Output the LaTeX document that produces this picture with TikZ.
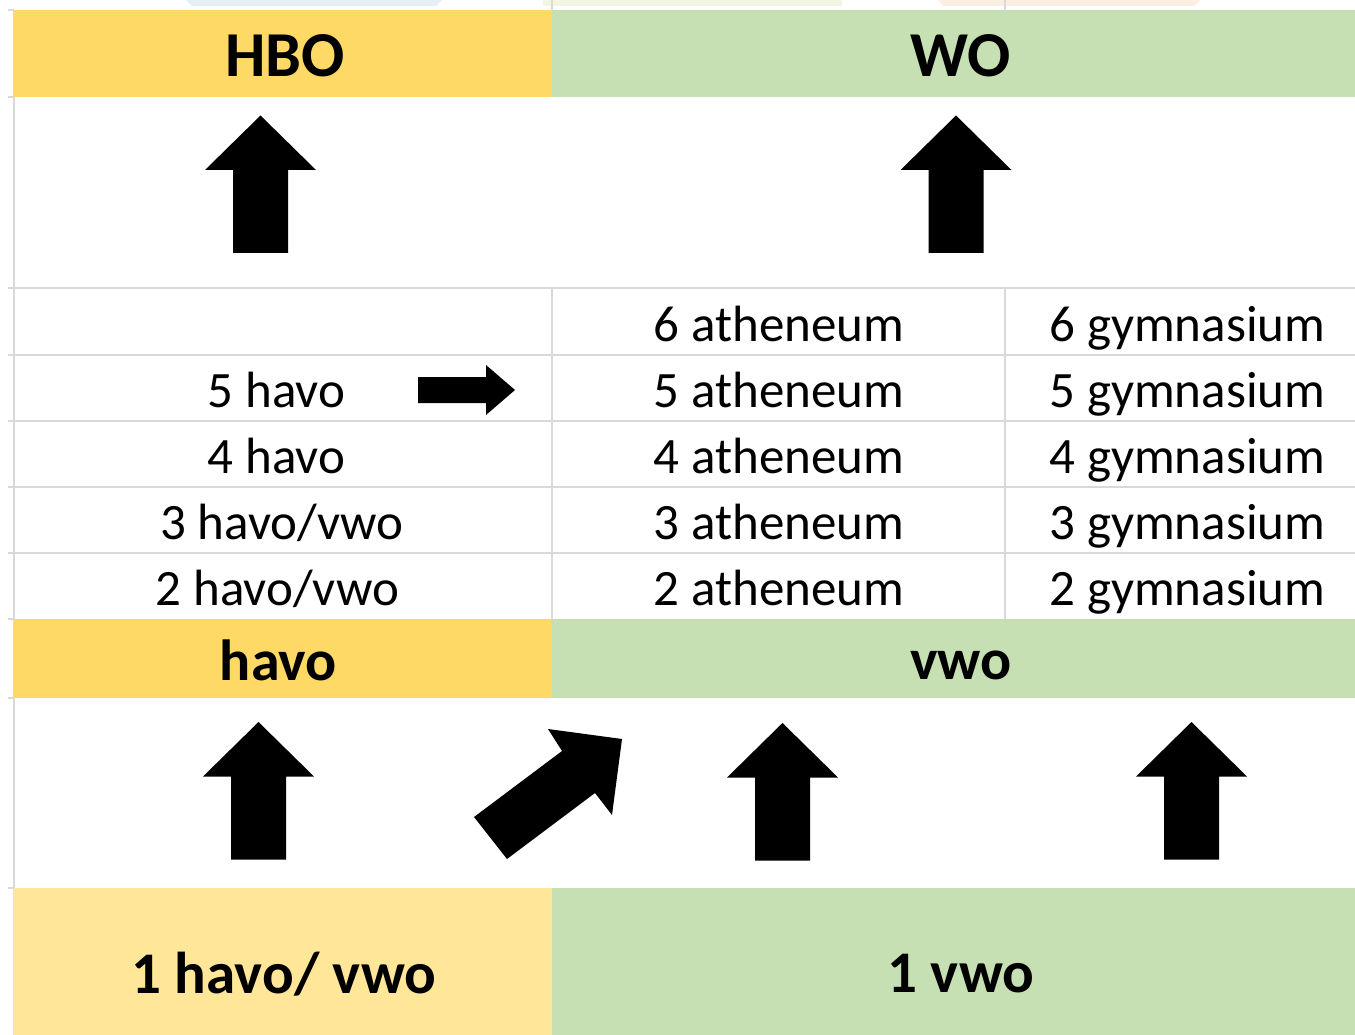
\documentclass[tikz,border=0pt]{standalone}
\usepackage{fontspec}
\setmainfont{Carlito}
\definecolor{hdyellow}{HTML}{FFD966}
\definecolor{ltyellow}{HTML}{FFE699}
\definecolor{hdgreen}{HTML}{C6E0B4}
\definecolor{gridgray}{HTML}{D9D9D9}
\definecolor{wmblue}{HTML}{E4EFF8}
\definecolor{wmgreen}{HTML}{F1F5E2}
\definecolor{wmorange}{HTML}{FDEEE2}
\begin{document}
\begin{tikzpicture}[x=1pt,y=-1pt,
  gridline/.style={draw=gridgray,line width=1.4pt},
  cell/.style={inner sep=0pt,anchor=base,font=\fontsize{51}{60}\selectfont},
  headtext/.style={inner sep=0pt,anchor=base,font=\fontsize{64}{70}\selectfont\bfseries},
  bandtext/.style={inner sep=0pt,anchor=base,font=\fontsize{58}{64}\selectfont\bfseries},
  basetext/.style={inner sep=0pt,anchor=base,font=\fontsize{59}{66}\selectfont\bfseries},
  blockarrow/.style={fill=black,draw=none},
  uparrow/.pic={\fill[blockarrow] (-27.5,0) -- (-27.5,-83) -- (-55.5,-83) -- (0,-137.5)
      -- (55.5,-83) -- (27.5,-83) -- (27.5,0) -- cycle;}]
\useasboundingbox (0,0) rectangle (1355,1035);
\fill[white] (0,0) rectangle (1355,1035);
% faint watermark fragments at the top
\fill[wmblue] (186,0) -- (442,0) -- (436,6) -- (192,6) -- cycle;
\fill[wmgreen] (543,0) -- (842,0) -- (842,6) -- (543,6) -- cycle;
\fill[wmorange] (938,0) -- (1200,0) -- (1195,6) -- (943,6) -- cycle;
% grid lines
\draw[gridline] (14,10) -- (14,888);
\foreach \yy in {10,97,619,698,888} \draw[gridline] (8,\yy) -- (14,\yy);
\foreach \yy in {288,355,421,487,553} \draw[gridline] (8,\yy) -- (1355,\yy);
\foreach \xx in {552,1005} {
  \draw[gridline] (\xx,0) -- (\xx,10);
  \draw[gridline] (\xx,288) -- (\xx,619);
}
% coloured bands
\fill[hdyellow] (13,10) rectangle (551.5,97);
\fill[hdgreen] (551.5,10) rectangle (1355,97);
\fill[hdyellow] (13,619) rectangle (551.5,698);
\fill[hdgreen] (551.5,619) rectangle (1355,698);
\fill[ltyellow] (13,888) rectangle (551.5,1035);
\fill[hdgreen] (551.5,888) rectangle (1355,1035);
% headers
\node[headtext] (hbo) at (285,77) {HBO};
\node[headtext] (wo) at (961,77) {WO};
% grid texts
\node[cell] (a6) at (779,341) {6 atheneum};
\node[cell] (g6) at (1187.5,341) {6 gymnasium};
\node[cell] (h5) at (276.5,407) {5 havo};
\node[cell] (a5) at (779,407) {5 atheneum};
\node[cell] (g5) at (1187.5,407) {5 gymnasium};
\node[cell] (h4) at (276.5,473) {4 havo};
\node[cell] (a4) at (779,473) {4 atheneum};
\node[cell] (g4) at (1187.5,473) {4 gymnasium};
\node[cell] (h3) at (282,539) {3 havo/vwo};
\node[cell] (a3) at (779,539) {3 atheneum};
\node[cell] (g3) at (1187.5,539) {3 gymnasium};
\node[cell] (h2) at (277.5,605) {2 havo/vwo};
\node[cell] (a2) at (779,605) {2 atheneum};
\node[cell] (g2) at (1187.5,605) {2 gymnasium};
% band texts
\node[bandtext] (havo) at (278.5,680) {havo};
\node[bandtext] (vwo) at (961,679) {vwo};
\node[basetext] (hv1) at (284,993) {1 havo/ vwo};
\node[basetext] (v1) at (961,992) {1 vwo};
% block arrows
\pic at (260.5,253) {uparrow};
\pic at (956,253) {uparrow};
\pic at (258.5,859.5) {uparrow};
\pic at (782.5,860.5) {uparrow};
\pic at (1191.5,859.5) {uparrow};
\fill[blockarrow] (418,377) -- (486,377) -- (486,365) -- (515,390) -- (486,415)
  -- (486,403) -- (418,403) -- cycle;
\fill[blockarrow] (474,817) -- (562,751) -- (548,729) -- (622,739) -- (612,815)
  -- (595,793) -- (507,859) -- cycle;
\end{tikzpicture}
\end{document}
